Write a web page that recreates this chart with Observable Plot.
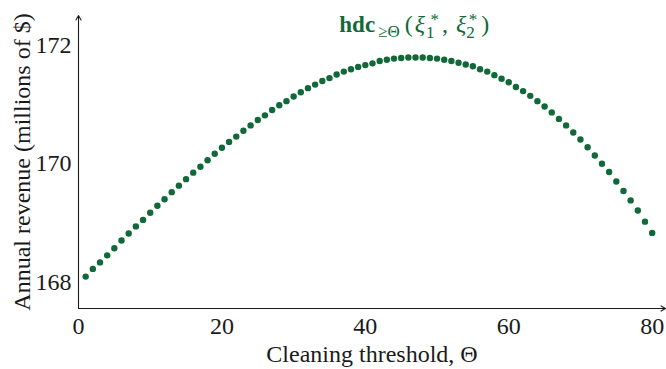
<!DOCTYPE html>
<html>
<head>
<meta charset="utf-8">
<script src="https://cdn.jsdelivr.net/npm/d3@7"></script>
<script src="https://cdn.jsdelivr.net/npm/@observablehq/plot@0.6"></script>
<style>
  html, body { margin: 0; padding: 0; background: #fff; }
  #chart { width: 666px; height: 369px; }
  #chart svg text { font-family: 'Liberation Serif', 'Times New Roman', Times, serif; }
</style>
</head>
<body>
<div id="chart"></div>
<script>
const theta = [
  1, 2, 3, 4, 5, 6, 7, 8, 9, 10,
  11, 12, 13, 14, 15, 16, 17, 18, 19, 20,
  21, 22, 23, 24, 25, 26, 27, 28, 29, 30,
  31, 32, 33, 34, 35, 36, 37, 38, 39, 40,
  41, 42, 43, 44, 45, 46, 47, 48, 49, 50,
  51, 52, 53, 54, 55, 56, 57, 58, 59, 60,
  61, 62, 63, 64, 65, 66, 67, 68, 69, 70,
  71, 72, 73, 74, 75, 76, 77, 78, 79, 80
];
const revenue = [
  168.09, 168.22, 168.33, 168.45, 168.57, 168.70, 168.82, 168.94, 169.05, 169.17,
  169.29, 169.40, 169.52, 169.63, 169.74, 169.85, 169.95, 170.06, 170.17, 170.27,
  170.37, 170.46, 170.56, 170.65, 170.74, 170.82, 170.91, 170.99, 171.06, 171.14,
  171.21, 171.28, 171.34, 171.40, 171.45, 171.51, 171.56, 171.60, 171.64, 171.67,
  171.70, 171.74, 171.76, 171.78, 171.79, 171.80, 171.80, 171.80, 171.79, 171.78,
  171.76, 171.74, 171.71, 171.68, 171.65, 171.60, 171.56, 171.50, 171.44, 171.38,
  171.30, 171.23, 171.15, 171.06, 170.97, 170.87, 170.76, 170.65, 170.53, 170.41,
  170.28, 170.14, 170.00, 169.86, 169.70, 169.54, 169.38, 169.21, 169.02, 168.83
];
const xTicks = [0, 20, 40, 60, 80];
const yTicks = [168, 170, 172];
const xDomain = [0, 81.86];
const yDomain = [167.55, 172.51];
const xLabel = "Cleaning threshold, Θ";
const yLabel = "Annual revenue (millions of $)";
const annotationPos = {x: 46.9, y: 172.22};

const green = "#116838";
const ink = "#1a1a1a";
const serif = "'Liberation Serif', 'Times New Roman', Times, serif";

const data = theta.map((t, i) => ({theta: t, revenue: revenue[i]}));

function annotation(index, scales) {
  const px = scales.x(annotationPos.x);
  const py = scales.y(annotationPos.y);
  const t = d3.create("svg:text")
    .attr("x", px).attr("y", py)
    .attr("text-anchor", "middle")
    .attr("fill", green)
    .attr("font-family", serif)
    .attr("font-size", 24);
  const parts = [
    {s: "hdc", w: "bold", fs: 23},
    {s: "≥Θ", fs: 17, dy: 5, dx: 3},
    {s: "(", dy: -5, dx: 5},
    {s: "ξ", it: true, dx: 2},
    {s: "1", fs: 17, dy: 6, dx: 1},
    {s: "*", fs: 17, dy: -13, dx: -4},
    {s: ",", dy: 7, dx: 3},
    {s: "ξ", it: true, dx: 8},
    {s: "2", fs: 17, dy: 6},
    {s: "*", fs: 17, dy: -13, dx: -6},
    {s: ")", dy: 7, dx: 4}
  ];
  for (const p of parts) {
    const ts = t.append("tspan").text(p.s);
    if (p.w) ts.attr("font-weight", p.w);
    if (p.fs) ts.attr("font-size", p.fs);
    if (p.it) ts.attr("font-style", "italic");
    if (p.dy) ts.attr("dy", p.dy);
    if (p.dx) ts.attr("dx", p.dx);
  }
  return t.node();
}

const chart = Plot.plot({
  width: 666,
  height: 369,
  marginLeft: 78,
  marginRight: 1,
  marginTop: 15,
  marginBottom: 61,
  style: {fontFamily: serif, background: "#fff", color: ink, overflow: "visible"},
  x: {domain: xDomain},
  y: {domain: yDomain},
  marks: [
    Plot.axisX(xTicks, {
      tickSize: 0, tickPadding: 8, fontSize: 24, fill: ink, fontFamily: serif,
      tickFormat: d => String(d),
      label: xLabel, labelAnchor: "center", labelOffset: 53, labelArrow: "none"
    }),
    Plot.axisY(yTicks, {
      tickSize: 0, tickPadding: 7, fontSize: 24, fill: ink, fontFamily: serif,
      tickFormat: d => String(d),
      label: yLabel, labelAnchor: "center", labelOffset: 66, labelArrow: "none"
    }),
    Plot.arrow([null], {
      x1: xDomain[0], y1: yDomain[0], x2: xDomain[1], y2: yDomain[0],
      stroke: ink, strokeWidth: 1.1, headLength: 7, headAngle: 60
    }),
    Plot.arrow([null], {
      x1: xDomain[0], y1: yDomain[0], x2: xDomain[0], y2: yDomain[1],
      stroke: ink, strokeWidth: 1.1, headLength: 7, headAngle: 60
    }),
    Plot.dot(data, {x: "theta", y: "revenue", r: 3.2, fill: green, stroke: "none"}),
    annotation
  ]
});
document.getElementById("chart").appendChild(chart);
</script>
</body>
</html>
